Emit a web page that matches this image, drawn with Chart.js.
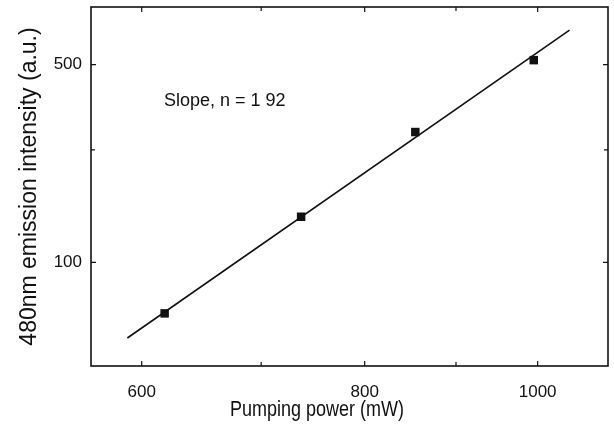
<!DOCTYPE html>
<html>
<head>
<meta charset="utf-8">
<script src="https://cdn.jsdelivr.net/npm/chart.js@4.4.1/dist/chart.umd.min.js"></script>
<style>
    html, body { margin: 0; padding: 0; background: #fff; }
</style>
</head>
<body>
<canvas id="powerGraph" width="614" height="428"></canvas>
<script>
// measured points (log-log)
var powerX = [618, 737, 854, 995];
var intensityY = [66, 145, 289, 519];
// fitted line end points
var fitX = [589, 1042];
var fitY = [54, 663];
// axis ticks
var xTicks = [600, 700, 800, 900, 1000];
var xLabels = ["600", "", "800", "", "1000"];
var yTicks = [100, 250, 500];
var yLabels = ["100", "", "500"];
var slopeText = "Slope, n = 1 92";
var xTitle = "Pumping power (mW)";

var fontFamily = "'Liberation Sans', Arial, Helvetica, sans-serif";

function to_points(xs, ys) {
    var pts = [];
    for (var i = 0; i < xs.length; i++) {
        pts.push({ x: xs[i], y: ys[i] });
    }
    return pts;
}

// frame with inward ticks on all four sides, x title and the slope note
var framePlugin = {
    id: "frame",
    afterDraw: function (chart) {
        var ctx = chart.ctx;
        var area = chart.chartArea;
        var xs = chart.scales.x;
        var ys = chart.scales.y;
        ctx.save();
        ctx.strokeStyle = "#111";
        ctx.lineWidth = 1.6;
        ctx.strokeRect(area.left, area.top, area.right - area.left, area.bottom - area.top);
        ctx.lineWidth = 1.2;
        ctx.beginPath();
        xTicks.forEach(function (v, i) {
            var len = xLabels[i] ? 5 : 4;
            var px = xs.getPixelForValue(v);
            ctx.moveTo(px, area.bottom);
            ctx.lineTo(px, area.bottom - len);
            ctx.moveTo(px, area.top);
            ctx.lineTo(px, area.top + len);
        });
        yTicks.forEach(function (v, i) {
            var len = yLabels[i] ? 5 : 4;
            var py = ys.getPixelForValue(v);
            ctx.moveTo(area.left, py);
            ctx.lineTo(area.left + len, py);
            ctx.moveTo(area.right, py);
            ctx.lineTo(area.right - len, py);
        });
        ctx.stroke();
        ctx.fillStyle = "#111";
        ctx.textBaseline = "middle";
        ctx.font = "18px " + fontFamily;
        ctx.fillText(slopeText, area.left + 73, area.top + 94);
        // x title, a little taller than wide like the scanned original
        ctx.translate(317, area.bottom + 44);
        ctx.scale(1, 1.18);
        ctx.textAlign = "center";
        ctx.fillText(xTitle, 0, 0);
        ctx.restore();
    }
};

var config = {
    type: "scatter",
    data: {
        datasets: [
            {
                label: "fit",
                type: "line",
                data: to_points(fitX, fitY),
                borderColor: "#111",
                borderWidth: 1.6,
                pointRadius: 0,
                fill: false,
            },
            {
                label: "data",
                data: to_points(powerX, intensityY),
                pointStyle: "rect",
                pointRadius: 6,
                backgroundColor: "#111",
                borderColor: "#111",
                borderWidth: 0,
            },
        ],
    },
    options: {
        responsive: false,
        animation: false,
        layout: { padding: { top: 7, right: 0, left: 0, bottom: 0 } },
        plugins: {
            legend: { display: false },
            tooltip: { enabled: false },
        },
        scales: {
            x: {
                type: "logarithmic",
                min: 562,
                max: 1095,
                afterBuildTicks: function (scale) {
                    scale.ticks = xTicks.map(function (v) { return { value: v }; });
                },
                afterFit: function (scale) {
                    scale.height = 62;
                    scale.paddingLeft = 0;
                    scale.paddingRight = 0;
                },
                grid: { display: false },
                border: { display: false },
                ticks: {
                    color: "#111",
                    padding: 8,
                    maxRotation: 0,
                    autoSkip: false,
                    font: { size: 17, family: fontFamily },
                    callback: function (value, index) { return xLabels[index]; },
                },
            },
            y: {
                type: "logarithmic",
                min: 43,
                max: 800,
                afterBuildTicks: function (scale) {
                    scale.ticks = yTicks.map(function (v) { return { value: v }; });
                },
                afterFit: function (scale) {
                    scale.width = 91;
                    scale.paddingTop = 0;
                    scale.paddingBottom = 0;
                },
                grid: { display: false },
                border: { display: false },
                ticks: {
                    color: "#111",
                    padding: 1,
                    autoSkip: false,
                    font: { size: 17, family: fontFamily },
                    callback: function (value, index) { return yLabels[index]; },
                },
                title: {
                    display: true,
                    text: "480nm emission intensity (a.u.)",
                    color: "#111",
                    font: { size: 23, family: fontFamily },
                    padding: { top: 16, bottom: 0 },
                },
            },
        },
    },
    plugins: [framePlugin],
};

var powerGraph = new Chart("powerGraph", config);
</script>
</body>
</html>
